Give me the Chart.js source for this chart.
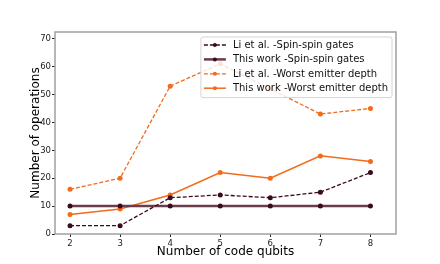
<!DOCTYPE html>
<html>
<head>
<meta charset="utf-8">
<script src="https://cdn.jsdelivr.net/npm/chart.js@4.4.0/dist/chart.umd.min.js"></script>
<style>
html, body { margin: 0; padding: 0; background: #fff; }
</style>
</head>
<body>
<canvas id="myChart" width="440" height="264"></canvas>
<script>
// values
const qubits = [2, 3, 4, 5, 6, 7, 8];
const liSpin = [3, 3, 13, 14, 13, 15, 22];
const ourSpin = [10, 10, 10, 10, 10, 10, 10];
const liDepth = [16, 20, 53, 61, 52, 43, 45];
const ourDepth = [7, 9, 14, 22, 20, 28, 26];
const yTicks = [0, 10, 20, 30, 40, 50, 60, 70];

const FONT = 'DejaVu Sans';
const dark = '#3b0a1e';
const orange = '#f26b1a';

function pts(vals) {
    return qubits.map((q, i) => ({x: q, y: vals[i]}));
}

// box round the plot, matplotlib style
const frame = {
    id: 'frame',
    afterDatasetsDraw(chart) {
        const a = chart.chartArea, ctx = chart.ctx;
        ctx.save();
        ctx.strokeStyle = '#a0a0a0';
        ctx.lineWidth = 1.5;
        ctx.strokeRect(a.left, a.top, a.right - a.left, a.bottom - a.top);
        ctx.restore();
    }
};

// legend drawn on top of the lines, top right inside the plot
const boxLegend = {
    id: 'boxLegend',
    afterDraw(chart) {
        const ctx = chart.ctx, a = chart.chartArea;
        const sets = chart.data.datasets;
        ctx.save();
        ctx.font = '10px "' + FONT + '"';
        let tw = 0;
        sets.forEach(d => { tw = Math.max(tw, ctx.measureText(d.label).width); });
        const rowH = 14.4;
        const w = 3 + 22 + 7 + tw + 4;
        const h = rowH * sets.length + 3;
        const x0 = a.right - 4 - w, y0 = a.top + 5;
        ctx.beginPath();
        ctx.roundRect(x0, y0, w, h, 2);
        ctx.fillStyle = 'rgba(255,255,255,0.8)';
        ctx.fill();
        ctx.strokeStyle = '#d4d4d4';
        ctx.lineWidth = 1;
        ctx.stroke();
        sets.forEach((d, i) => {
            const cy = y0 + 8 + i * rowH;
            const hx = x0 + 3;
            ctx.beginPath();
            ctx.setLineDash(d.borderDash || []);
            ctx.strokeStyle = d.borderColor;
            ctx.lineWidth = d.borderWidth;
            ctx.moveTo(hx, cy);
            ctx.lineTo(hx + 22, cy);
            ctx.stroke();
            ctx.setLineDash([]);
            ctx.beginPath();
            ctx.fillStyle = d.pointBackgroundColor;
            ctx.arc(hx + 11, cy, 2, 0, Math.PI * 2);
            ctx.fill();
            ctx.fillStyle = '#111';
            ctx.textBaseline = 'middle';
            ctx.fillText(d.label, hx + 29, cy + 0.5);
        });
        ctx.restore();
    }
};

new Chart(document.getElementById('myChart'), {
    type: 'line',
    data: {
        datasets: [{
            label: 'Li et al. -Spin-spin gates',
            data: pts(liSpin),
            borderColor: dark,
            borderWidth: 1.3,
            borderDash: [4, 2],
            pointBackgroundColor: dark,
            pointRadius: 2.5,
            pointBorderWidth: 0
        }, {
            label: 'This work -Spin-spin gates',
            data: pts(ourSpin),
            borderColor: '#6a3d4d',
            borderWidth: 2.5,
            pointBackgroundColor: dark,
            pointRadius: 2.5,
            pointBorderWidth: 0
        }, {
            label: 'Li et al. -Worst emitter depth',
            data: pts(liDepth),
            borderColor: orange,
            borderWidth: 1.3,
            borderDash: [4, 2],
            pointBackgroundColor: orange,
            pointRadius: 2.5,
            pointBorderWidth: 0
        }, {
            label: 'This work -Worst emitter depth',
            data: pts(ourDepth),
            borderColor: orange,
            borderWidth: 1.5,
            pointBackgroundColor: orange,
            pointRadius: 2.5,
            pointBorderWidth: 0
        }]
    },
    options: {
        responsive: false,
        devicePixelRatio: 1,
        animation: false,
        layout: { padding: { top: 32, right: 44, left: 0, bottom: 0 } },
        plugins: {
            legend: { display: false },
            tooltip: { enabled: false }
        },
        scales: {
            x: {
                type: 'linear',
                min: 1.7,
                max: 8.51,
                afterBuildTicks: s => { s.ticks = qubits.map(v => ({value: v})); },
                afterFit: s => { s.height = 30; },
                grid: { drawOnChartArea: false, drawTicks: true, tickLength: 3, tickColor: '#222' },
                border: { display: false },
                ticks: { font: { family: FONT, size: 8.5 }, color: '#222', padding: 2, maxRotation: 0 },
                title: {
                    display: true,
                    text: 'Number of code qubits',
                    font: { family: FONT, size: 12 },
                    color: '#000',
                    padding: { top: 0, bottom: 4.8 }
                }
            },
            y: {
                min: 0,
                max: 72.4,
                afterBuildTicks: s => { s.ticks = yTicks.map(v => ({value: v})); },
                afterFit: s => { s.width = 55; },
                grid: { drawOnChartArea: false, drawTicks: true, tickLength: 3, tickColor: '#222' },
                border: { display: false },
                ticks: { font: { family: FONT, size: 8.5 }, color: '#222', padding: 1 },
                title: {
                    display: true,
                    text: 'Number of operations',
                    font: { family: FONT, size: 12 },
                    color: '#000',
                    padding: { top: 28.8, bottom: 0 }
                }
            }
        }
    },
    plugins: [frame, boxLegend]
});
</script>
</body>
</html>
